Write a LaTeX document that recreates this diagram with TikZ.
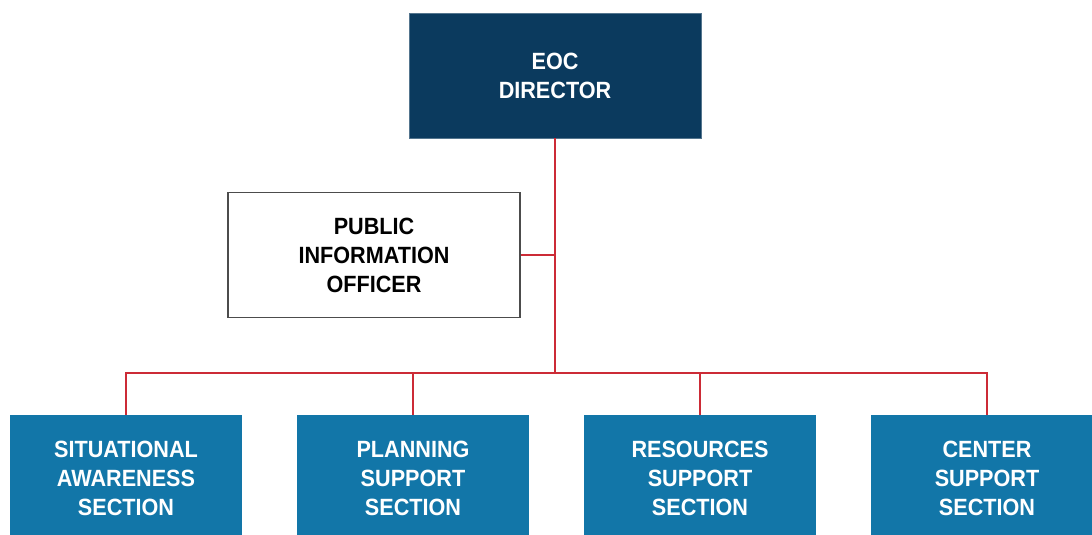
\documentclass[tikz,border=0pt]{standalone}
\usepackage{fontspec}
\setmainfont{Liberation Sans}[FakeStretch=0.92]
\definecolor{eocnavy}{HTML}{0B3A5E}
\definecolor{secblue}{HTML}{1276A8}
\definecolor{linkred}{HTML}{CC2B36}

\tikzset{box_style/.style={rectangle, minimum width=292pt, minimum height=125pt, align=center,
    font=\fontsize{23.5}{29}\selectfont\bfseries}}
\tikzset{dir_style/.style={box_style, fill=eocnavy, draw=eocnavy!70!white, line width=0.6pt, text=white}}
\tikzset{pio_style/.style={box_style, fill=white, draw=black!70, line width=1.5pt, text=black}}
\tikzset{sec_style/.style={box_style, minimum width=232pt, minimum height=126pt, fill=secblue, text=white}}
\tikzset{link_style/.style={draw=linkred, line width=2pt}}

\begin{document}
\begin{tikzpicture}[x=1pt, y=-1pt]
    \clip (0,0) rectangle (1092,535);
    \fill[white] (0,0) rectangle (1092,535);

    \node[dir_style] (dir) at (555,75.5){EOC\\DIRECTOR};
    \node[pio_style] (pio) at (374,255){PUBLIC\\INFORMATION\\OFFICER};
    \node[sec_style] (sa) at (126,478){SITUATIONAL\\AWARENESS\\SECTION};
    \node[sec_style] (ps) at (413,478){PLANNING\\SUPPORT\\SECTION};
    \node[sec_style] (rs) at (700,478){RESOURCES\\SUPPORT\\SECTION};
    \node[sec_style] (cs) at (987,478){CENTER\\SUPPORT\\SECTION};

    \coordinate (hub) at (555,373);

    \draw[link_style] (dir.south) -- (hub);
    \draw[link_style] (pio.east) -- (pio.east -| dir.south);
    \draw[link_style] (hub) -| (sa.north);
    \draw[link_style] (hub) -| (ps.north);
    \draw[link_style] (hub) -| (rs.north);
    \draw[link_style] (hub) -| (cs.north);
    
\end{tikzpicture}
\end{document}
